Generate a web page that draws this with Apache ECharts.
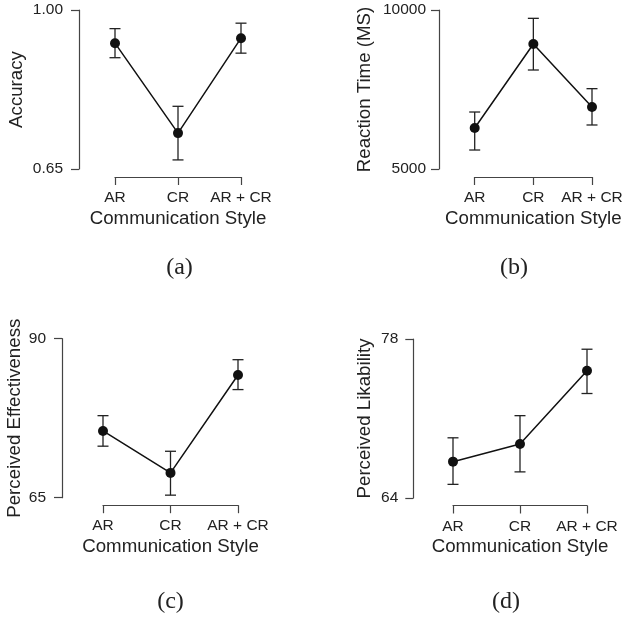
<!DOCTYPE html>
<html>
<head>
<meta charset="utf-8">
<script src="https://cdn.jsdelivr.net/npm/echarts@6/dist/echarts.min.js"></script>
<style>
html,body{margin:0;padding:0;background:#fff;}
#chart{width:622px;height:619px;}
</style>
</head>
<body>
<div id="chart"></div>
<script>
// ---- data ----
const categories = ['AR', 'CR', 'AR + CR'];

const accuracyMean = [0.927, 0.729, 0.938];
const accuracyLow  = [0.895, 0.670, 0.905];
const accuracyHigh = [0.959, 0.788, 0.971];
const accuracyTicks = [0.65, 1.00];

const reactionMean = [6289, 8931, 6950];
const reactionLow  = [5597, 8113, 6384];
const reactionHigh = [6792, 9738, 7526];
const reactionTicks = [5000, 10000];

const effectMean = [75.5, 68.9, 84.3];
const effectLow  = [73.1, 65.4, 82.0];
const effectHigh = [77.9, 72.3, 86.7];
const effectTicks = [65, 90];

const likeMean = [67.2, 68.75, 75.2];
const likeLow  = [65.2, 66.3, 73.2];
const likeHigh = [69.3, 71.25, 77.1];
const likeTicks = [64, 78];

const panelTitles = ['Accuracy', 'Reaction Time (MS)', 'Perceived Effectiveness', 'Perceived Likability'];
const xTitle = 'Communication Style';
const captions = ['(a)', '(b)', '(c)', '(d)'];

// ---- layout ----
const FONT = '"Liberation Sans", Arial, sans-serif';
const TXT = '#222';
const AX = '#444';

const panels = [
  {grid: {left: 115, top: 10, width: 126, height: 159}, yOff: 36, yGap: 53, yMargin: 16, xOff: 8,
   mean: accuracyMean, low: accuracyLow, high: accuracyHigh, ticks: accuracyTicks, fmt: v => v.toFixed(2),
   cap: [179.5, 268]},
  {grid: {left: 474.7, top: 10, width: 117.3, height: 159}, yOff: 35.7, yGap: 65, yMargin: 13, xOff: 8,
   mean: reactionMean, low: reactionLow, high: reactionHigh, ticks: reactionTicks, fmt: v => String(v),
   cap: [514, 268]},
  {grid: {left: 103, top: 338.7, width: 135, height: 159}, yOff: 41, yGap: 37.5, yMargin: 16, xOff: 7.5,
   mean: effectMean, low: effectLow, high: effectHigh, ticks: effectTicks, fmt: v => String(v),
   cap: [170.5, 602]},
  {grid: {left: 453, top: 339, width: 134, height: 159}, yOff: 39.7, yGap: 39, yMargin: 15, xOff: 7.5,
   mean: likeMean, low: likeLow, high: likeHigh, ticks: likeTicks, fmt: v => String(v),
   cap: [506, 602]}
];

const grids = [], xAxes = [], yAxes = [], series = [], graphics = [];

panels.forEach((p, i) => {
  grids.push(Object.assign({outerBoundsMode: 'none', containLabel: false}, p.grid));
  xAxes.push({
    type: 'category', gridIndex: i, data: categories, boundaryGap: false,
    offset: p.xOff,
    name: xTitle, nameLocation: 'middle', nameGap: 32,
    nameTextStyle: {fontFamily: FONT, fontSize: 18.7, color: TXT},
    axisLine: {show: true, lineStyle: {color: AX, width: 1.2}},
    axisTick: {show: true, length: 8, inside: false, lineStyle: {color: AX, width: 1.2}},
    axisLabel: {fontFamily: FONT, fontSize: 15.5, color: TXT, margin: 13, interval: 0},
    splitLine: {show: false}
  });
  yAxes.push({
    type: 'value', gridIndex: i, min: p.ticks[0], max: p.ticks[1],
    offset: p.yOff,
    name: panelTitles[i], nameLocation: 'middle', nameGap: p.yGap,
    nameTextStyle: {fontFamily: FONT, fontSize: 18.7, color: TXT},
    axisLine: {show: true, lineStyle: {color: AX, width: 1.2}},
    axisTick: {show: true, length: 8, inside: false, customValues: p.ticks, lineStyle: {color: AX, width: 1.2}},
    axisLabel: {fontFamily: FONT, fontSize: 15.5, color: TXT, margin: p.yMargin, customValues: p.ticks,
                formatter: p.fmt},
    splitLine: {show: false}
  });
  const errData = categories.map((c, k) => [k, p.low[k], p.high[k]]);
  series.push({
    type: 'custom', xAxisIndex: i, yAxisIndex: i, z: 1,
    data: errData,
    encode: {x: 0, y: [1, 2]},
    renderItem: function (params, api) {
      const x = api.value(0);
      const lo = api.coord([x, api.value(1)]);
      const hi = api.coord([x, api.value(2)]);
      const w = 5.5;
      const st = {stroke: '#222', lineWidth: 1.3};
      return {type: 'group', children: [
        {type: 'line', shape: {x1: hi[0], y1: hi[1], x2: lo[0], y2: lo[1]}, style: st},
        {type: 'line', shape: {x1: hi[0] - w, y1: hi[1], x2: hi[0] + w, y2: hi[1]}, style: st},
        {type: 'line', shape: {x1: lo[0] - w, y1: lo[1], x2: lo[0] + w, y2: lo[1]}, style: st}
      ]};
    },
    silent: true, animation: false
  });
  series.push({
    type: 'line', xAxisIndex: i, yAxisIndex: i, z: 3,
    data: p.mean,
    symbol: 'circle', symbolSize: 10, showSymbol: true,
    lineStyle: {color: '#111', width: 1.5},
    itemStyle: {color: '#111'},
    animation: false, silent: true
  });
  graphics.push({
    type: 'text', x: p.cap[0], y: p.cap[1],
    style: {text: captions[i], font: '24px "Liberation Serif", "DejaVu Serif", serif', fill: '#222',
            textAlign: 'center', textVerticalAlign: 'middle'}
  });
});

const chart = echarts.init(document.getElementById('chart'), null, {renderer: 'canvas'});
chart.setOption({
  backgroundColor: '#fff',
  animation: false,
  grid: grids, xAxis: xAxes, yAxis: yAxes, series: series,
  graphic: graphics
});
</script>
</body>
</html>
